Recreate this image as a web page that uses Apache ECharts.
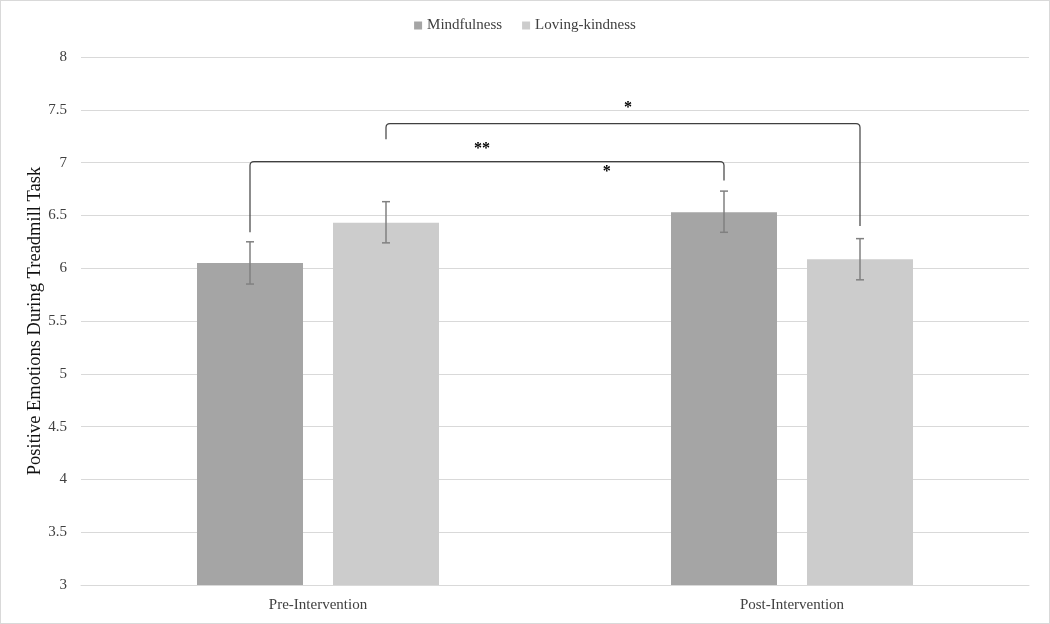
<!DOCTYPE html>
<html>
<head>
<meta charset="utf-8">
<script src="https://cdn.jsdelivr.net/npm/echarts@6/dist/echarts.min.js"></script>
<style>
html,body{margin:0;padding:0;background:#fff;}
#chart{width:1050px;height:624px;box-sizing:border-box;border:1px solid #d9d9d9;}
</style>
</head>
<body>
<div id="chart"></div>
<script>
// ---- data ----
const categories = ['Pre-Intervention', 'Post-Intervention'];
const seriesNames = ['Mindfulness', 'Loving-kindness'];
const mindfulness = [6.05, 6.53];
const lovingKindness = [6.43, 6.085];
const mindfulnessLow = [5.85, 6.34];
const mindfulnessHigh = [6.25, 6.73];
const lovingKindnessLow = [6.24, 5.89];
const lovingKindnessHigh = [6.63, 6.28];
const yTicks = { min: 3, max: 8, interval: 0.5 };
// brackets: [catA, seriesA, catB, seriesB, leftBottom, top, rightBottom]
const brackets = [
  [0, 0, 1, 0, 6.34, 7.01, 6.83],
  [0, 1, 1, 1, 7.22, 7.37, 6.40]
];
// significance markers: [x position across categories, y value, text]
const sigX = [0.654, 0.346, 0.609];
const sigY = [7.52, 7.13, 6.91];
const sigText = ['*', '**', '*'];

// ---- style ----
const FONT = 'Liberation Serif';
const BAR_W = 106;
const BAR_GAP_PX = 30;
const colors = ['#a5a5a5', '#cccccc'];
const offsetFor = s => (s === 0 ? -1 : 1) * (BAR_W + BAR_GAP_PX) / 2;

function errorRender(seriesIdx) {
  return function (params, api) {
    const c = api.value(0);
    const lo = api.coord([c, api.value(1)]);
    const hi = api.coord([c, api.value(2)]);
    const x = lo[0] + offsetFor(seriesIdx);
    const cap = 4;
    const st = { stroke: '#808080', lineWidth: 1.5, fill: null };
    return {
      type: 'group',
      children: [
        { type: 'line', shape: { x1: x, y1: lo[1], x2: x, y2: hi[1] }, style: st },
        { type: 'line', shape: { x1: x - cap, y1: lo[1], x2: x + cap, y2: lo[1] }, style: st },
        { type: 'line', shape: { x1: x - cap, y1: hi[1], x2: x + cap, y2: hi[1] }, style: st }
      ]
    };
  };
}

function bracketRender(params, api) {
  const pL = api.coord([api.value(0), api.value(4)]);
  const pT = api.coord([api.value(0), api.value(5)]);
  const pR = api.coord([api.value(2), api.value(6)]);
  const x1 = pL[0] + offsetFor(api.value(1));
  const x2 = pR[0] + offsetFor(api.value(3));
  const yT = pT[1], yL = pL[1], yR = pR[1];
  const r = 4;
  const d = 'M' + x1 + ' ' + yL + ' L' + x1 + ' ' + (yT + r) +
    ' Q' + x1 + ' ' + yT + ' ' + (x1 + r) + ' ' + yT +
    ' L' + (x2 - r) + ' ' + yT +
    ' Q' + x2 + ' ' + yT + ' ' + x2 + ' ' + (yT + r) +
    ' L' + x2 + ' ' + yR;
  return {
    type: 'path',
    shape: { pathData: d },
    style: { stroke: '#404040', lineWidth: 1.2, fill: null }
  };
}

function sigRender(params, api) {
  const p = api.coord([api.value(0), api.value(1)]);
  return {
    type: 'text',
    x: p[0], y: p[1],
    style: {
      text: sigText[params.dataIndex],
      fill: '#000', font: 'bold 16px ' + FONT,
      align: 'center', verticalAlign: 'middle'
    }
  };
}

const chart = echarts.init(document.getElementById('chart'));
chart.setOption({
  animation: false,
  backgroundColor: '#fff',
  textStyle: { fontFamily: FONT },
  legend: {
    data: seriesNames,
    top: 12,
    left: 'center',
    icon: 'rect',
    itemWidth: 8,
    itemHeight: 8,
    itemGap: 20,
    textStyle: { fontFamily: FONT, fontSize: 15, color: '#404040' }
  },
  grid: { left: 80, right: 20, top: 56, bottom: 38 },
  xAxis: [
    {
      type: 'category',
      data: categories,
      axisLine: { lineStyle: { color: '#d9d9d9', width: 1 } },
      axisTick: { show: false },
      axisLabel: { fontFamily: FONT, fontSize: 15, color: '#404040', margin: 13 }
    },
    { type: 'value', min: -0.5, max: 1.5, show: false }
  ],
  yAxis: {
    type: 'value',
    min: yTicks.min, max: yTicks.max, interval: yTicks.interval,
    name: 'Positive Emotions During Treadmill Task',
    nameLocation: 'middle',
    nameGap: 36,
    nameMoveOverlap: false,
    nameTextStyle: { fontFamily: FONT, fontSize: 18.5, color: '#111' },
    axisLine: { show: false },
    axisTick: { show: false },
    axisLabel: { fontFamily: FONT, fontSize: 15, color: '#404040', margin: 14 },
    splitLine: { lineStyle: { color: '#d9d9d9', width: 1 } }
  },
  series: [
    {
      name: seriesNames[0], type: 'bar', data: mindfulness,
      barWidth: BAR_W, barGap: (BAR_GAP_PX / BAR_W * 100).toFixed(1) + '%',
      itemStyle: { color: colors[0] }
    },
    {
      name: seriesNames[1], type: 'bar', data: lovingKindness,
      barWidth: BAR_W,
      itemStyle: { color: colors[1] }
    },
    {
      type: 'custom', renderItem: errorRender(0), z: 5,
      data: categories.map((c, i) => [i, mindfulnessLow[i], mindfulnessHigh[i]])
    },
    {
      type: 'custom', renderItem: errorRender(1), z: 5,
      data: categories.map((c, i) => [i, lovingKindnessLow[i], lovingKindnessHigh[i]])
    },
    {
      type: 'custom', renderItem: bracketRender, z: 6,
      data: brackets
    },
    {
      type: 'custom', renderItem: sigRender, z: 7, xAxisIndex: 1,
      data: sigX.map((x, i) => [x, sigY[i]])
    }
  ]
});
</script>
</body>
</html>
